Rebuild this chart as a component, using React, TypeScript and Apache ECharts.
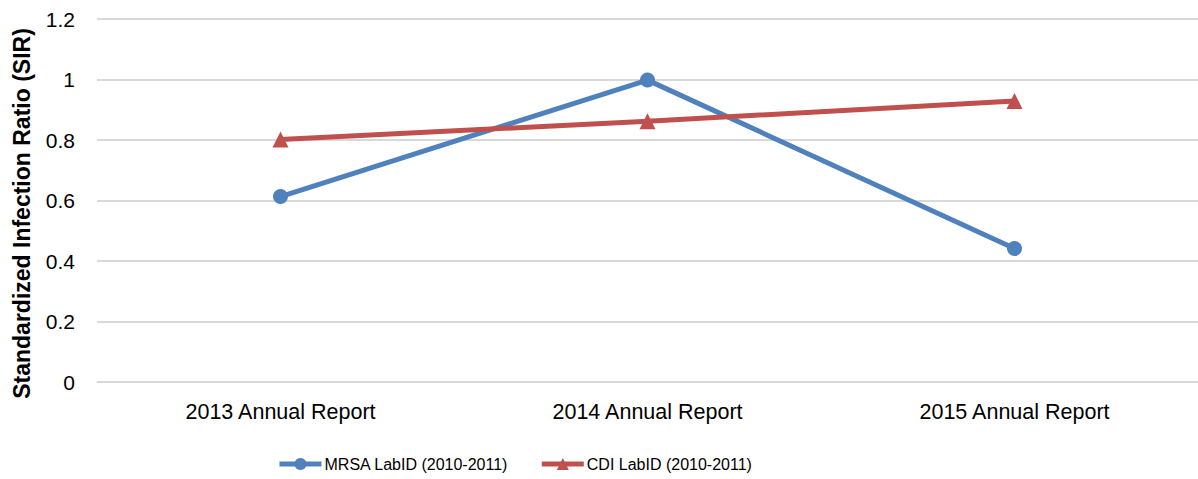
import React, { useEffect, useRef } from "react";
import * as echarts from "echarts";

const categories = ["2013 Annual Report", "2014 Annual Report", "2015 Annual Report"];
const mrsaValues = [0.613, 0.998, 0.441];
const cdiValues = [0.802, 0.862, 0.929];
const seriesNames = ["MRSA LabID (2010-2011)", "CDI LabID (2010-2011)"];
const yAxisTitle = "Standardized Infection Ratio (SIR)";

const FONT = "Liberation Sans";

export default function App() {
  const ref = useRef<HTMLDivElement>(null);
  useEffect(() => {
    if (!ref.current) return;
    const chart = echarts.init(ref.current, null, { renderer: "svg" });
    chart.setOption({
      animation: false,
      backgroundColor: "#ffffff",
      textStyle: { fontFamily: FONT },
      grid: { left: 97, right: 0, top: 19, bottom: 97, containLabel: false },
      legend: {
        top: 451,
        left: 272,
        itemWidth: 42,
        itemHeight: 15,
        itemGap: 31,
        lineStyle: { width: 5 },
        textStyle: { fontFamily: FONT, fontSize: 16, color: "#000", padding: [0, 0, 0, -2] },
        data: seriesNames,
      },
      xAxis: {
        type: "category",
        data: categories,
        axisLine: { show: true, lineStyle: { color: "#D9D9D9", width: 1 } },
        axisTick: { show: false },
        axisLabel: { fontFamily: FONT, fontSize: 21.5, color: "#000", margin: 19 },
      },
      yAxis: {
        type: "value",
        min: 0,
        max: 1.2,
        interval: 0.2,
        name: yAxisTitle,
        nameLocation: "middle",
        nameGap: 63.5,
        nameTextStyle: {
          fontFamily: FONT,
          fontSize: 23,
          fontWeight: "bold",
          color: "#000",
          padding: [0, 26, 0, 0],
        },
        axisLine: { show: false },
        axisTick: { show: false },
        axisLabel: {
          fontFamily: FONT,
          fontSize: 21,
          color: "#000",
          margin: 22,
          formatter: (v: number) => String(Math.round(v * 10) / 10),
        },
        splitLine: { lineStyle: { color: "#D9D9D9", width: 2 } },
      },
      series: [
        {
          name: seriesNames[0],
          type: "line",
          data: mrsaValues,
          symbol: "circle",
          symbolSize: 15,
          lineStyle: { color: "#4F81BD", width: 5 },
          itemStyle: { color: "#4F81BD" },
        },
        {
          name: seriesNames[1],
          type: "line",
          data: cdiValues,
          symbol: "triangle",
          symbolSize: 16,
          lineStyle: { color: "#C0504D", width: 5 },
          itemStyle: { color: "#C0504D" },
        },
      ],
    });
    return () => chart.dispose();
  }, []);
  return (
    <div
      ref={ref}
      style={{ position: "fixed", left: 0, top: 0, width: 1198, height: 479, background: "#fff" }}
    />
  );
}
